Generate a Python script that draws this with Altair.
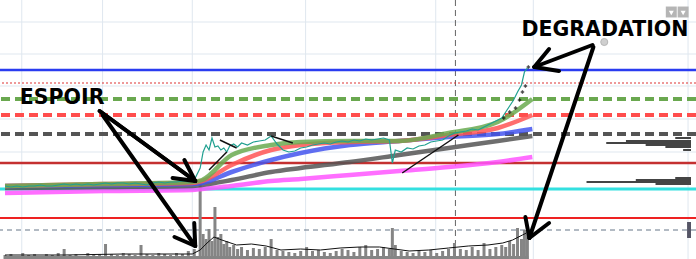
import altair as alt
import pandas as pd

W, H = 696, 259

# ---- price series (day index, close level, volume) ----
days = [0,6,12,18,24,30,36,42,48,54,60,66,72,78,84,90,96,102,108,114,120,126,132,138,144,150,156,162,168,174,180,186,192,
        198,201,204,207,210,213,216,219,222,225,228,
        232,236,240,
        246,252,258,264,270,276,282,288,294,300,306,312,318,324,330,336,342,348,354,360,366,372,378,384,390,
        393,396,
        402,408,414,420,426,432,438,444,450,456,462,468,474,480,486,492,498,504,
        508,512,516,520,524,527,530]
close = [73,72,73,72,73,73,74,73,73,74,75,74,75,74,75,74,75,76,75,76,76,75,76,75,74,76,77,76,77,77,78,77,79,
         91,107,114,109,121,112,113,109,111,107,113,
         115,112,116,
         114,117,118,119,123,115,109,107,108,111,112,114,115,116,115,117,118,117,119,118,120,119,120,121,119,
         96,109,
         107,111,110,113,114,117,118,119,123,126,127,128,130,129,132,135,138,141,
         147,153,159,167,174,187,191]
volume = [4,5,3,6,4,5,3,5,4,6,10,4,5,3,6,4,5,15,5,4,6,5,4,14,5,4,6,5,4,6,5,8,10,
          76,25,20,30,18,52,22,25,15,18,12,
          14,10,12,
          9,11,10,12,20,9,8,7,6,8,12,8,9,7,6,8,10,9,7,12,14,9,10,12,10,
          31,14,
          8,7,6,8,7,9,6,8,10,16,10,9,12,9,16,10,12,14,
          12,18,15,31,20,29,25]

vol_avg_days = [0,60,120,190,198,205,212,220,235,250,265,280,300,320,340,360,380,395,410,430,450,470,490,505,515,525,531]
vol_avg = [4,4,5,5,9,16,22,19,14,15,13,9,10,9,11,12,12,10,8,9,11,13,14,16,19,24,27]

# ---- moving averages ----
ma_days = [0,100,190,200,230,270,300,350,400,450,500,535]
ma_green = [73,75,77,79,104,114,117,118,118,126,137,160]
ma_red = [73,75,76,78,94,109,114,117,118,124,131,144]
ma_blue = [73,74,75,76,87,99,106,114,118,122,125,130]
ma_gray = [71,72,73,74,79,87,91,97,104,111,118,123]
ma_magenta = [66,68,69,70,73,78,80,84,88,92,97,102]

# SAR-like markers and trend segments
sar_days = [506,512,518,522,525,528,531]
sar_vals = [141,147,151,159,167,173,192]
trend_x1 = [403,207,218,270]
trend_y1 = [86,89,119,123]
trend_x2 = [460,225,235,292]
trend_y2 = [124,107,111,116]

# horizontal levels
grid_levels = [237,205,173,140,107]
grid_days = [17,99,190,305,437,536,693]

# volume profile (right side)
vp_levels = [121,118,116,114,112,109,81,79,77,75]
vp_start = [680,630,610,650,670,688,680,640,590,660]

# annotations
labels = ["ESPOIR", "DEGRADATION"]
label_x = [15, 524]
label_y = [155, 223]
arrow_x1 = [96,96,182,170, 99,192,172, 596,552,562, 597,528,552]
arrow_y1 = [148,148,99,81, 144,36,22, 214,210,188, 212,42,36]
arrow_x2 = [193,193,193,193, 193,193,193, 537,537,537, 532,532,532]
arrow_y2 = [78,78,78,78, 13,13,13, 192,192,192, 21,21,21]

xs = alt.Scale(domain=[0, W], nice=False, zero=False)
ys = alt.Scale(domain=[0, H], nice=False, zero=False)


def X(f="x"):
    return alt.X(f + ":Q", scale=xs, axis=None)


def Y(f="y"):
    return alt.Y(f + ":Q", scale=ys, axis=None)


layers = []

# grid
layers.append(alt.Chart(pd.DataFrame({"y": grid_levels})).mark_rule(color="#dfe7ef", strokeWidth=1).encode(y=Y()))
layers.append(alt.Chart(pd.DataFrame({"x": grid_days})).mark_rule(color="#dfe7ef", strokeWidth=1).encode(x=X()))
layers.append(alt.Chart(pd.DataFrame({"x": [457]})).mark_rule(color="#666666", strokeWidth=1, strokeDash=[6, 4]).encode(x=X()))


def hline(level, color, width, dash=None, opacity=1.0):
    kw = dict(color=color, strokeWidth=width, opacity=opacity)
    if dash:
        kw["strokeDash"] = dash
    return alt.Chart(pd.DataFrame({"y": [level]})).mark_rule(**kw).encode(y=Y())


layers += [
    hline(189, "#2a3cf0", 2.5),
    hline(176, "#dd3333", 1, [2, 2]),
    hline(160, "#6aa84f", 4, [9, 5]),
    hline(144, "#ff4d4d", 4, [9, 5]),
    hline(125, "#555555", 4, [9, 5]),
    hline(96, "#c43030", 2.5),
    hline(70, "#33e0e0", 3),
    hline(41, "#ee2222", 2),
    hline(29, "#667788", 1, [5, 4]),
]

# volume
vdf = pd.DataFrame({"x": days, "v": volume})
vdf["base"] = 0
layers.append(alt.Chart(vdf).mark_bar(color="#858585", size=3).encode(x=X(), y=Y("v"), y2="base:Q"))
layers.append(alt.Chart(pd.DataFrame({"x": [0], "x2": [531], "y": [0], "y2": [3]})).mark_rect(color="#858585").encode(
    x=X(), x2="x2:Q", y=Y(), y2="y2:Q"))
layers.append(alt.Chart(pd.DataFrame({"x": vol_avg_days, "y": vol_avg})).mark_line(color="#111111", strokeWidth=1).encode(x=X(), y=Y()))

# moving averages
ma_rows = []
for name, col, vals in [("magenta", "#ff55ff", ma_magenta), ("gray", "#555555", ma_gray),
                        ("blue", "#4455ee", ma_blue), ("red", "#ff5555", ma_red), ("green", "#6aaa50", ma_green)]:
    for d, v in zip(ma_days, vals):
        ma_rows.append({"x": d, "y": v, "s": name, "c": col})
madf = pd.DataFrame(ma_rows)
layers.append(alt.Chart(madf).mark_line(strokeWidth=4.5, opacity=0.85, interpolate="monotone").encode(
    x=X(), y=Y(), detail="s:N", color=alt.Color("c:N", scale=None)))

# price
pdf = pd.DataFrame({"x": days, "y": close})
layers.append(alt.Chart(pdf).mark_line(color="#20a090", strokeWidth=1.2).encode(x=X(), y=Y()))

# trend segments and SAR
layers.append(alt.Chart(pd.DataFrame({"x": trend_x1, "y": trend_y1, "x2": trend_x2, "y2": trend_y2}))
              .mark_rule(color="#111111", strokeWidth=1.5).encode(x=X(), y=Y(), x2="x2:Q", y2="y2:Q"))
layers.append(alt.Chart(pd.DataFrame({"x": sar_days, "y": sar_vals})).mark_point(shape="cross", color="#000000", filled=True, size=12).encode(x=X(), y=Y()))

# volume profile
vpdf = pd.DataFrame({"x": vp_start, "y": vp_levels})
vpdf["x2"] = W
layers.append(alt.Chart(vpdf).mark_rule(color="#444444", strokeWidth=2).encode(x=X(), y=Y(), x2="x2:Q"))
layers.append(alt.Chart(pd.DataFrame({"x": [692], "x2": [W], "y": [21], "y2": [37]})).mark_rect(color="#555566").encode(x=X(), x2="x2:Q", y=Y(), y2="y2:Q"))

# arrows
adf = pd.DataFrame({"x": arrow_x1, "y": arrow_y1, "x2": arrow_x2, "y2": arrow_y2})
layers.append(alt.Chart(adf).mark_rule(color="#000000", strokeWidth=4, strokeCap="round").encode(x=X(), y=Y(), x2="x2:Q", y2="y2:Q"))

# labels
layers.append(alt.Chart(pd.DataFrame({"x": label_x, "y": label_y, "t": labels})).mark_text(
    align="left", baseline="alphabetic", font="DejaVu Sans", fontWeight="bold", fontSize=20.5, color="#000000").encode(
    x=X(), y=Y(), text="t:N"))

# grey dot and top-right icons
layers.append(alt.Chart(pd.DataFrame({"x": [608], "y": [217]})).mark_point(filled=True, color="#bbbbbb", size=50, stroke="#999999", strokeWidth=1).encode(x=X(), y=Y()))
layers.append(alt.Chart(pd.DataFrame({"x": [676, 688], "y": [247, 247]})).mark_square(color="#b5b5b5", size=120, opacity=1).encode(x=X(), y=Y()))
layers.append(alt.Chart(pd.DataFrame({"x": [676, 688], "y": [246, 246]})).mark_point(shape="triangle-down", filled=True, color="#ffffff", size=25, opacity=1).encode(x=X(), y=Y()))

chart = alt.layer(*layers).properties(
    width=W, height=H, padding=0, autosize=alt.AutoSizeParams(type="none"), background="#ffffff"
).configure_view(stroke=None)

chart.save("out.html", embed_options={"renderer": "svg", "actions": False})
